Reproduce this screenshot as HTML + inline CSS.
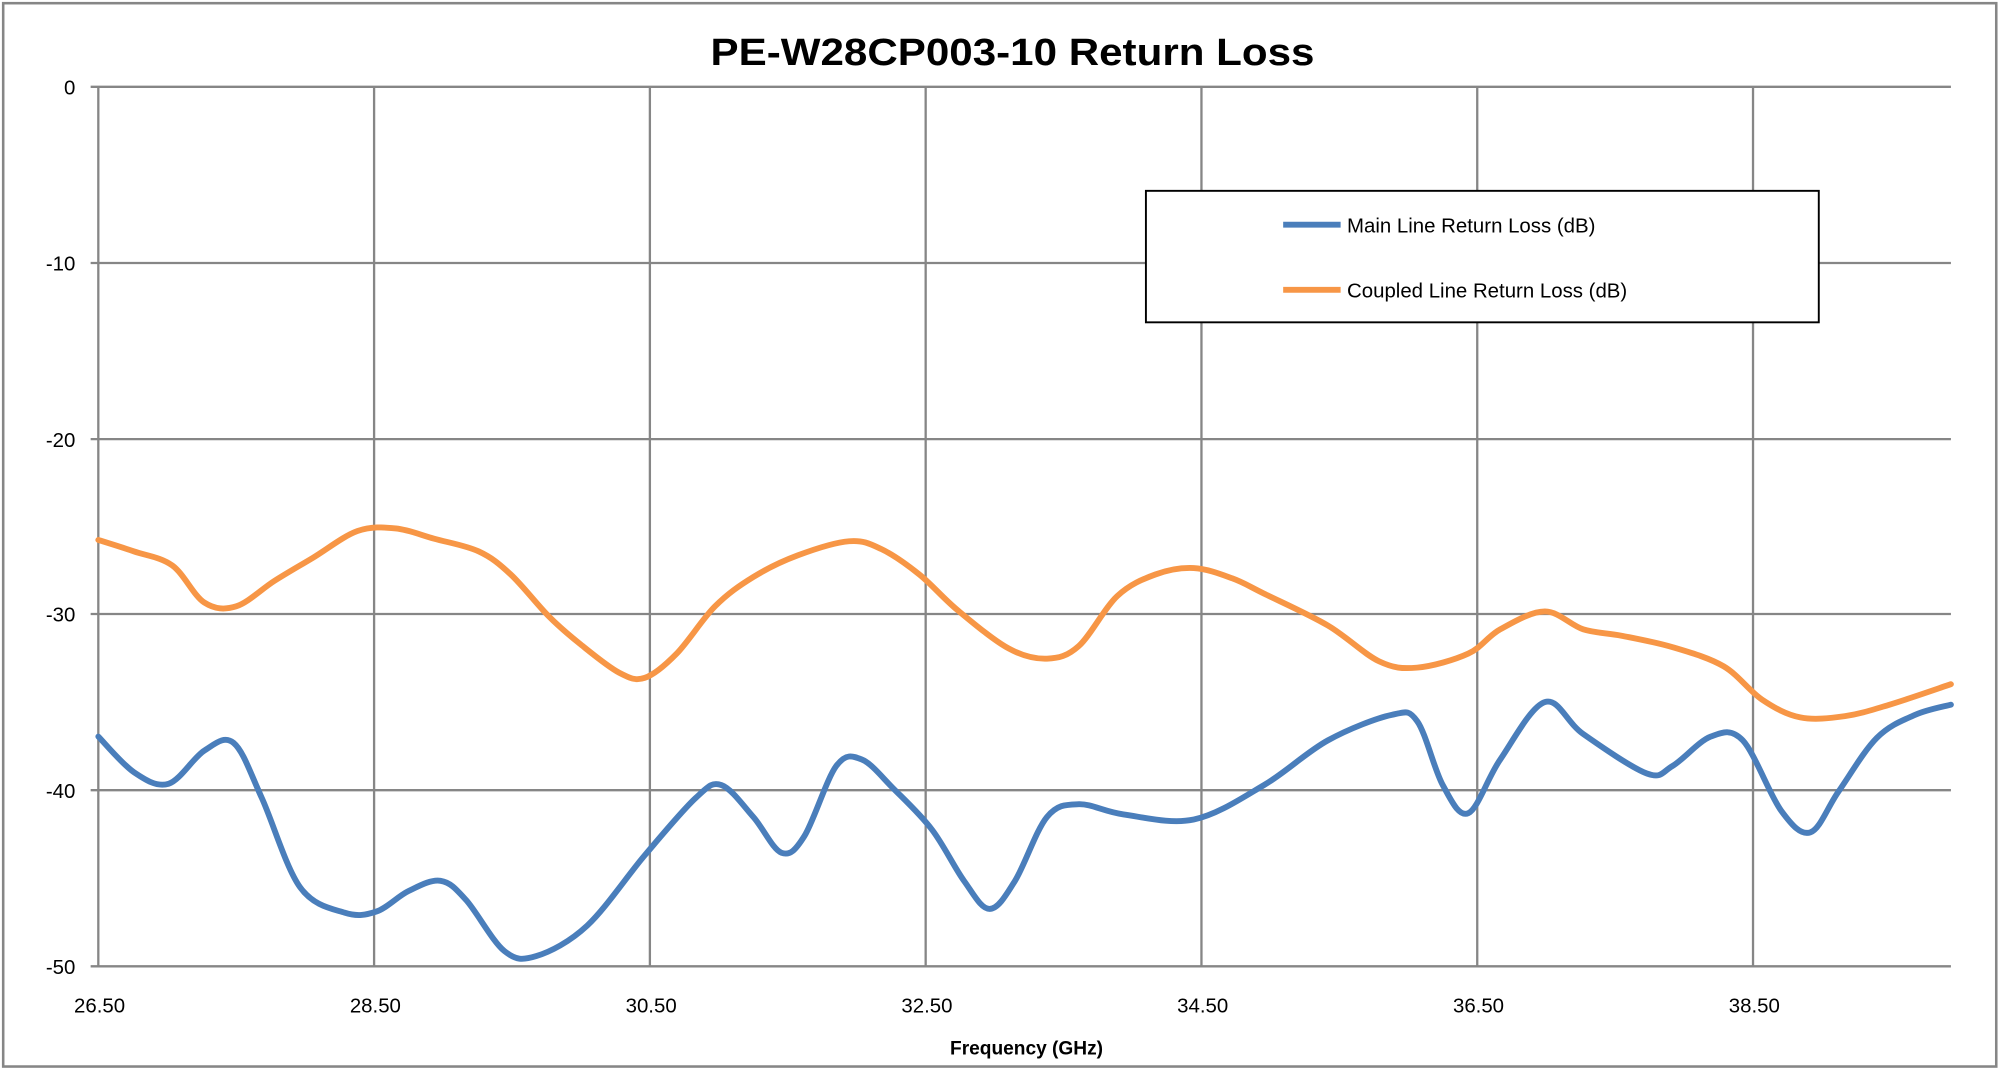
<!DOCTYPE html>
<html><head><meta charset="utf-8"><style>
html,body{margin:0;padding:0;background:#fff;}
svg{display:block;}
text{font-family:"Liberation Sans",sans-serif;fill:#000;}
</style></head><body>
<svg id="s" width="2002" height="1071" viewBox="0 0 1568 839" preserveAspectRatio="none" xmlns="http://www.w3.org/2000/svg">
<rect x="0" y="0" width="1568" height="839" fill="#fff"/>
<rect x="2.5" y="2.5" width="1561" height="833" fill="none" stroke="#868686" stroke-width="2"/>
<text x="793" y="51" font-size="30" font-weight="bold" text-anchor="middle" textLength="473" lengthAdjust="spacingAndGlyphs">PE-W28CP003-10 Return Loss</text>
<g stroke="#868686" stroke-width="1.8" fill="none">
<line x1="71" y1="68" x2="1528" y2="68"/>
<line x1="71" y1="206" x2="1528" y2="206"/>
<line x1="71" y1="344" x2="1528" y2="344"/>
<line x1="71" y1="481" x2="1528" y2="481"/>
<line x1="71" y1="619" x2="1528" y2="619"/>
<line x1="71" y1="757" x2="1528" y2="757"/>
<line x1="77" y1="68" x2="77" y2="757"/>
<line x1="293" y1="68" x2="293" y2="757"/>
<line x1="509" y1="68" x2="509" y2="757"/>
<line x1="725" y1="68" x2="725" y2="757"/>
<line x1="941" y1="68" x2="941" y2="757"/>
<line x1="1157" y1="68" x2="1157" y2="757"/>
<line x1="1373" y1="68" x2="1373" y2="757"/>
</g>
<g font-size="16" text-anchor="end">
<text x="59" y="74">0</text>
<text x="59" y="212">-10</text>
<text x="59" y="350">-20</text>
<text x="59" y="487">-30</text>
<text x="59" y="625">-40</text>
<text x="59" y="763">-50</text>
</g>
<g font-size="16" text-anchor="middle">
<text x="78" y="793">26.50</text>
<text x="294" y="793">28.50</text>
<text x="510" y="793">30.50</text>
<text x="726" y="793">32.50</text>
<text x="942" y="793">34.50</text>
<text x="1158" y="793">36.50</text>
<text x="1374" y="793">38.50</text>
</g>
<text x="804" y="826" font-size="15" font-weight="bold" text-anchor="middle">Frequency (GHz)</text>
<path id="blue" fill="none" stroke="#4a7ebb" stroke-width="4.6" stroke-linejoin="round" stroke-linecap="round"/>
<path id="orange" fill="none" stroke="#f79646" stroke-width="4.6" stroke-linejoin="round" stroke-linecap="round"/>
<rect x="897.5" y="149.5" width="527" height="103" fill="#fff" stroke="#000" stroke-width="1.5"/>
<line x1="1005" y1="176" x2="1050" y2="176" stroke="#4a7ebb" stroke-width="4.6"/>
<line x1="1005" y1="227" x2="1050" y2="227" stroke="#f79646" stroke-width="4.6"/>
<text x="1055" y="182" font-size="16">Main Line Return Loss (dB)</text>
<text x="1055" y="233" font-size="16">Coupled Line Return Loss (dB)</text>
</svg>
<script>
var B=[[77,577],[105,605],[132,614],[160,588],[183,582],[205,625],[235,695],[270,715],[295,714],[320,698],[345,690],[365,705],[395,745],[420,749],[460,725],[505,670],[545,625],[565,615],[590,640],[612,668],[630,655],[655,600],[675,595],[700,618],[730,650],[755,690],[775,712],[795,690],[820,640],[845,630],[880,638],[935,642],[990,615],[1040,580],[1090,560],[1110,565],[1130,615],[1150,637],[1175,595],[1210,550],[1240,575],[1290,606],[1310,600],[1340,577],[1365,580],[1395,635],[1418,652],[1440,620],[1470,578],[1500,560],[1528,552]];
var O=[[77,423],[105,432],[135,443],[160,472],[185,475],[215,455],[245,437],[280,416],[310,414],[340,422],[375,432],[400,450],[430,483],[455,505],[485,527],[505,531],[530,512],[560,475],[590,452],[625,435],[665,424],[690,430],[720,450],[750,478],[790,508],[820,516],[845,506],[875,467],[905,450],[935,445],[965,453],[990,465],[1040,490],[1080,518],[1110,523],[1150,512],[1175,493],[1210,479],[1240,493],[1270,498],[1310,507],[1350,522],[1380,548],[1410,562],[1445,561],[1480,552],[1528,536]];
function cr(p){var d="M"+p[0][0]+","+p[0][1];for(var i=0;i<p.length-1;i++){var p0=p[i-1]||p[i],p1=p[i],p2=p[i+1],p3=p[i+2]||p2;var c1x=p1[0]+(p2[0]-p0[0])/6,c1y=p1[1]+(p2[1]-p0[1])/6,c2x=p2[0]-(p3[0]-p1[0])/6,c2y=p2[1]-(p3[1]-p1[1])/6;d+=" C"+c1x+","+c1y+" "+c2x+","+c2y+" "+p2[0]+","+p2[1];}return d;}
document.getElementById("blue").setAttribute("d",cr(B));
document.getElementById("orange").setAttribute("d",cr(O));
</script>
</body></html>
